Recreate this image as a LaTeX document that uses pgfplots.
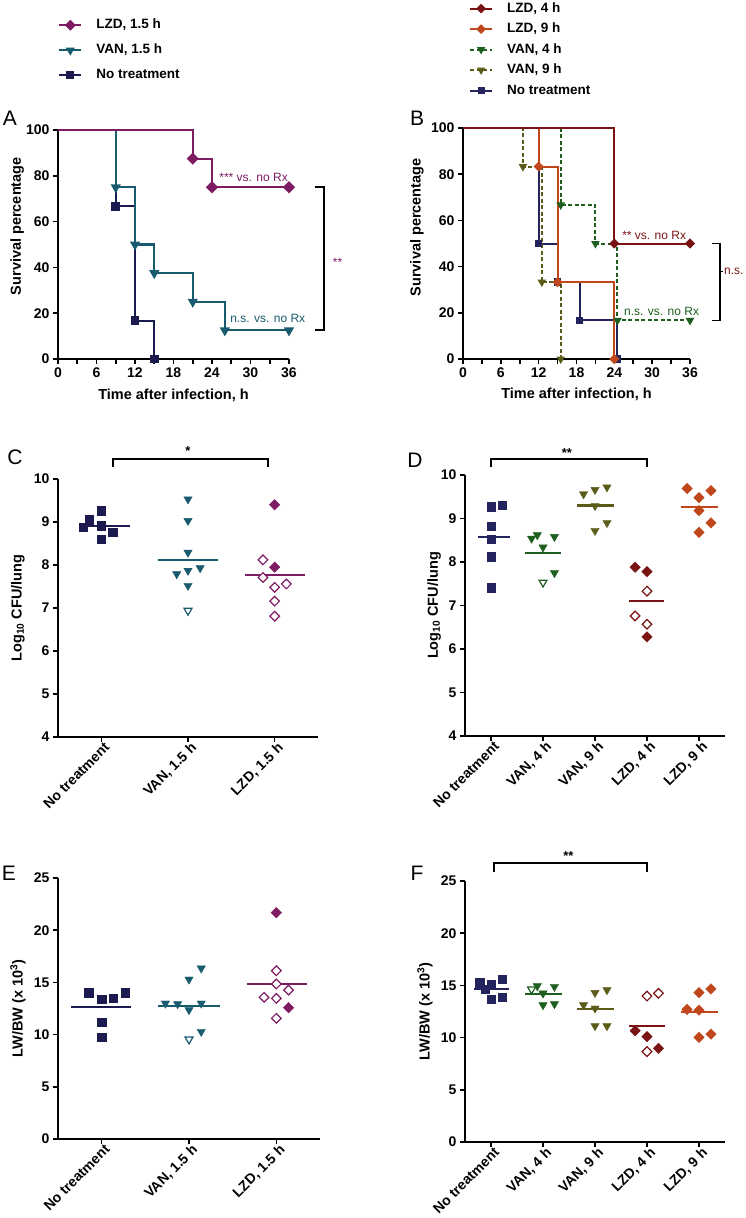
\documentclass[border=0pt]{standalone}
\usepackage{pgfplots}
\pgfplotsset{compat=1.18}
\usepackage{fontspec}
\setmainfont{Liberation Sans}

\definecolor{navy}{HTML}{1B1B4F}
\definecolor{navyb}{HTML}{23235E}
\definecolor{lzd}{HTML}{7D1B63}
\definecolor{van}{HTML}{185A6E}
\definecolor{lzdfour}{HTML}{7A1414}
\definecolor{lzdnine}{HTML}{C0461B}
\definecolor{vanfour}{HTML}{1E5E1E}
\definecolor{vannine}{HTML}{5C5C1A}

\newcommand{\fs}[1]{\fontsize{#1}{#1}\selectfont}

\pgfplotsset{
  /pgf/number format/assume math mode=true,
  gp/.style={
    scale only axis,
    axis x line*=bottom, axis y line*=left,
    axis line style={line width=2pt,-},
    tick align=outside,
    major tick length=5pt, minor tick length=5pt,
    every tick/.style={line width=1.6pt,black},
    tick label style={font=\fs{14}\bfseries},
    label style={font=\fs{14.5}\bfseries},
    clip=false,
  },
  cat/.style={
    xticklabel style={rotate=45,anchor=north east,inner sep=1pt,xshift=3pt,font=\fs{14}\bfseries},
  },
  legend image code/.code={\draw[mark repeat=2,mark phase=2,#1] plot coordinates {(0pt,0pt) (11pt,0pt) (22pt,0pt)};},
  sqm/.style={only marks, mark=square*, mark size=4.2pt},
  trim/.style={only marks, mark=triangle*, mark size=4.8pt, mark options={rotate=180}},
  trio/.style={only marks, mark=triangle*, mark size=4.6pt, mark options={rotate=180,fill=white,line width=1.2pt}},
  dim/.style={only marks, mark=square*, mark size=3.7pt, mark options={rotate=45}},
  dio/.style={only marks, mark=square*, mark size=3.4pt, mark options={rotate=45,fill=white,line width=1.2pt}},
  med/.style={line width=2.2pt},
}

\begin{document}
\begin{tikzpicture}
\useasboundingbox (0pt,0pt) rectangle (745pt,-1218pt);

% ---------------- Panel A ----------------
\begin{axis}[gp, at={(58pt,-359pt)}, anchor=south west, width=231pt, height=229pt,
  xmin=0, xmax=36, ymin=0, ymax=100,
  xtick={0,6,...,36}, minor xtick={3,9,...,33}, ytick={0,20,...,100},
  xlabel={Time after infection, h}, ylabel={Survival percentage},
  xlabel style={at={(axis description cs:0.5,-0.157)},anchor=center},
  ylabel style={at={(axis description cs:-0.177,0.58)},anchor=center},
  legend cell align=left,
  legend style={at={(axis description cs:0,1.489)},anchor=north west,draw=none,fill=none,
    inner sep=0pt,font=\fs{13.5}\bfseries,row sep=11pt,column sep=13pt,
    nodes={inner sep=1pt,text height=9.5pt,text depth=2.5pt}}]
\addlegendimage{lzd,line width=2.2pt,mark=square*,mark size=2.8pt,mark options={rotate=45}}
\addlegendentry{LZD, 1.5 h}
\addlegendimage{van,line width=2.2pt,mark=triangle*,mark size=3.2pt,mark options={rotate=180}}
\addlegendentry{VAN, 1.5 h}
\addlegendimage{navy,line width=2.2pt,mark=square*,mark size=2.8pt}
\addlegendentry{No treatment}

\addplot[navy,line width=2.2pt,const plot,mark=square*,mark size=3.2pt,mark indices={2,3,4},forget plot]
  coordinates {(0,100) (9,66.7) (12,16.7) (15,0)};
\addplot[van,line width=2.2pt,const plot,mark=triangle*,mark size=3.8pt,mark options={rotate=180},mark indices={2,3,4,5,6,7},forget plot]
  coordinates {(0,100) (9,75) (12,50) (15,37.5) (21,25) (26,12.5) (36,12.5)};
\addplot[lzd,line width=2.2pt,const plot,mark=square*,mark size=3.2pt,mark options={rotate=45},mark indices={2,3,4},forget plot]
  coordinates {(0,100) (21,87.5) (24,75) (36,75)};

\node[anchor=west,text=lzd,font=\fs{12}] at (axis cs:24.6,79.5) {*** vs. no Rx};
\node[anchor=west,text=van,font=\fs{12}] at (axis cs:26.3,17.5) {n.s. vs. no Rx};
\draw[line width=1.8pt] (axis cs:40,75) -- (axis cs:41.4,75) -- (axis cs:41.4,12.5) -- (axis cs:40,12.5);
\node[anchor=base west,text=lzd,font=\fs{12}] at (axis cs:42.3,40.4) {**};
\end{axis}

% ---------------- Panel B ----------------
\begin{axis}[gp, at={(463pt,-359pt)}, anchor=south west, width=227pt, height=231pt,
  xmin=0, xmax=36, ymin=0, ymax=100,
  xtick={0,6,...,36}, minor xtick={3,9,...,33}, ytick={0,20,...,100},
  xlabel={Time after infection, h}, ylabel={Survival percentage},
  xlabel style={at={(axis description cs:0.5,-0.155)},anchor=center},
  ylabel style={at={(axis description cs:-0.203,0.57)},anchor=center},
  legend cell align=left,
  legend style={at={(axis description cs:0.026,1.548)},anchor=north west,draw=none,fill=none,
    inner sep=0pt,font=\fs{13.5}\bfseries,row sep=6.5pt,column sep=13pt,
    nodes={inner sep=1pt,text height=9.5pt,text depth=2.5pt}}]
\addlegendimage{lzdfour,line width=2pt,mark=square*,mark size=2.4pt,mark options={rotate=45}}
\addlegendentry{LZD, 4 h}
\addlegendimage{lzdnine,line width=2pt,mark=square*,mark size=2.4pt,mark options={rotate=45}}
\addlegendentry{LZD, 9 h}
\addlegendimage{vanfour,line width=2pt,dash pattern=on 4pt off 2.5pt,mark=triangle*,mark size=2.8pt,mark options={solid,rotate=180}}
\addlegendentry{VAN, 4 h}
\addlegendimage{vannine,line width=2pt,dash pattern=on 4pt off 2.5pt,mark=triangle*,mark size=2.8pt,mark options={solid,rotate=180}}
\addlegendentry{VAN, 9 h}
\addlegendimage{navyb,line width=2pt,mark=square*,mark size=2.4pt}
\addlegendentry{No treatment}

\addplot[navyb,line width=2pt,const plot,mark=square*,mark size=2.8pt,mark indices={2,3,4,5},forget plot]
  coordinates {(0,100) (12,50) (15,33.3) (18.5,16.7) (24.5,0)};
\addplot[vannine,line width=2pt,dash pattern=on 4pt off 2.5pt,const plot,mark=triangle*,mark size=3pt,mark options={solid,rotate=180},mark indices={2,3,4},forget plot]
  coordinates {(0,100) (9.5,83.3) (12.5,33.3) (15.5,0)};
\addplot[vanfour,line width=2pt,dash pattern=on 4pt off 2.5pt,const plot,mark=triangle*,mark size=3pt,mark options={solid,rotate=180},mark indices={2,3,4,5},forget plot]
  coordinates {(0,100) (15.5,66.7) (21,50) (24.5,16.7) (36,16.7)};
\addplot[lzdnine,line width=2pt,const plot,mark=square*,mark size=2.6pt,mark options={rotate=45},mark indices={2,3,4},forget plot]
  coordinates {(0,100) (12,83.3) (15,33.3) (24,0)};
\addplot[lzdfour,line width=2pt,const plot,mark=square*,mark size=2.6pt,mark options={rotate=45},mark indices={2,3},forget plot]
  coordinates {(0,100) (24,50) (36,50)};

\node[anchor=west,text=lzdfour,font=\fs{12}] at (axis cs:24.7,53.7) {** vs. no Rx};
\node[anchor=west,text=vanfour,font=\fs{12}] at (axis cs:25,20.8) {n.s. vs. no Rx};
\draw[line width=1.8pt] (axis cs:39.5,50) -- (axis cs:40.8,50) -- (axis cs:40.8,16.7) -- (axis cs:39.5,16.7);
\draw[line width=1.2pt] (axis cs:40.8,38) -- (axis cs:41.3,38);
\node[anchor=west,text=lzdfour,font=\fs{12},inner sep=0.5pt] at (axis cs:41.3,38) {n.s.};
\end{axis}

% ---------------- Panel C ----------------
\begin{axis}[gp, cat, at={(58pt,-737pt)}, anchor=south west, width=260pt, height=258pt,
  xmin=0.5, xmax=3.5, ymin=4, ymax=10, ytick={4,5,...,10},
  xtick={1,2,3}, xticklabels={{No treatment},{VAN, 1.5 h},{LZD, 1.5 h}},
  ylabel={Log\textsubscript{10} CFU/lung},
  ylabel style={at={(axis description cs:-0.154,0.5)},anchor=center}]
\addplot[sqm,navy] coordinates {(0.79,8.88) (0.86,9.05) (1,9.26) (1,8.91) (1.13,8.77) (1,8.60)};
\addplot[med,navy] coordinates {(0.75,8.91) (1.33,8.91)};
\addplot[trim,van] coordinates {(2,9.53) (2,9.03) (2,8.29) (1.87,7.79) (2,7.87) (2.14,7.93) (2,7.52)};
\addplot[trio,van] coordinates {(2,6.94)};
\addplot[med,van] coordinates {(1.65,8.11) (2.35,8.11)};
\addplot[dim,lzd] coordinates {(3,9.40) (3,7.95)};
\addplot[dio,lzd] coordinates {(2.865,8.12) (2.865,7.71) (3,7.48) (3.135,7.56) (3,7.16) (3,6.81)};
\addplot[med,lzd] coordinates {(2.66,7.77) (3.35,7.77)};
\draw[line width=1.8pt] (axis cs:1.13,10.28) |- (axis cs:2.92,10.47) -- (axis cs:2.92,10.28);
\node[anchor=base,font=\fs{13}\bfseries] at (axis cs:2,10.55) {*};
\end{axis}

% ---------------- Panel D ----------------
\begin{axis}[gp, cat, at={(465pt,-736pt)}, anchor=south west, width=260pt, height=261pt,
  xmin=0.5, xmax=5.5, ymin=4, ymax=10, ytick={4,5,...,10},
  xtick={1,2,3,4,5}, xticklabels={{No treatment},{VAN, 4 h},{VAN, 9 h},{LZD, 4 h},{LZD, 9 h}},
  ylabel={Log\textsubscript{10} CFU/lung},
  ylabel style={at={(axis description cs:-0.119,0.5)},anchor=center}]
\addplot[sqm,navyb] coordinates {(1,9.27) (1.22,9.31) (1,8.83) (1,8.52) (1,8.12) (1,7.41)};
\addplot[med,navyb] coordinates {(0.75,8.58) (1.36,8.58)};
\addplot[trim,vanfour] coordinates {(1.78,8.54) (1.89,8.62) (2.22,8.58) (2,8.34) (2.22,7.75)};
\addplot[trio,vanfour] coordinates {(2,7.53)};
\addplot[med,vanfour] coordinates {(1.65,8.20) (2.35,8.20)};
\addplot[trim,vannine] coordinates {(2.78,9.56) (3,9.66) (3.23,9.72) (3,9.29) (3,8.72) (3.23,8.90)};
\addplot[med,vannine] coordinates {(2.65,9.30) (3.36,9.30)};
\addplot[dim,lzdfour] coordinates {(3.77,7.88) (4,7.78) (4,6.28)};
\addplot[dio,lzdfour] coordinates {(4,7.33) (3.77,6.76) (4,6.57)};
\addplot[med,lzdfour] coordinates {(3.65,7.10) (4.33,7.10)};
\addplot[dim,lzdnine] coordinates {(4.77,9.69) (5,9.48) (5.23,9.64) (5,9.18) (5.23,8.90) (5,8.68)};
\addplot[med,lzdnine] coordinates {(4.65,9.26) (5.36,9.26)};
\draw[line width=1.8pt] (axis cs:1,10.19) |- (axis cs:4,10.36) -- (axis cs:4,10.19);
\node[anchor=base,font=\fs{13}\bfseries] at (axis cs:2.46,10.40) {**};
\end{axis}

% ---------------- Panel E ----------------
\begin{axis}[gp, cat, at={(58pt,-1139pt)}, anchor=south west, width=262pt, height=261pt,
  xmin=0.5, xmax=3.5, ymin=0, ymax=25, ytick={0,5,...,25},
  xtick={1,2,3}, xticklabels={{No treatment},{VAN, 1.5 h},{LZD, 1.5 h}},
  ylabel={LW/BW (x 10\textsuperscript{3})},
  ylabel style={at={(axis description cs:-0.153,0.5)},anchor=center}]
\addplot[sqm,navy] coordinates {(0.85,14.01) (1,13.37) (1.13,13.47) (1.27,14.01) (1,11.21) (1,9.74)};
\addplot[med,navy] coordinates {(0.65,12.64) (1.34,12.64)};
\addplot[trim,van] coordinates {(1.73,12.99) (1.87,12.93) (2.14,12.99) (2,12.36) (2,15.29) (2.14,16.35) (2.14,10.28)};
\addplot[trio,van] coordinates {(2,9.55)};
\addplot[med,van] coordinates {(1.65,12.74) (2.35,12.74)};
\addplot[dim,lzd] coordinates {(3,21.68) (3.14,12.58)};
\addplot[dio,lzd] coordinates {(3,16.12) (3,14.85) (3.14,14.27) (2.86,13.57) (3,13.47) (3,11.56)};
\addplot[med,lzd] coordinates {(2.66,14.82) (3.35,14.82)};
\end{axis}

% ---------------- Panel F ----------------
\begin{axis}[gp, cat, at={(465pt,-1142pt)}, anchor=south west, width=260pt, height=261pt,
  xmin=0.5, xmax=5.5, ymin=0, ymax=25, ytick={0,5,...,25},
  xtick={1,2,3,4,5}, xticklabels={{No treatment},{VAN, 4 h},{VAN, 9 h},{LZD, 4 h},{LZD, 9 h}},
  ylabel={LW/BW (x 10\textsuperscript{3})},
  ylabel style={at={(axis description cs:-0.154,0.5)},anchor=center}]
\addplot[sqm,navyb] coordinates {(0.78,15.26) (1,15.13) (1.22,15.58) (0.89,14.63) (1,13.67) (1.22,13.86)};
\addplot[med,navyb] coordinates {(0.67,14.66) (1.34,14.66)};
\addplot[trim,vanfour] coordinates {(1.89,14.94) (2.22,14.88) (2,14.24) (2,13.12) (2.22,13.22)};
\addplot[trio,vanfour] coordinates {(1.78,14.63)};
\addplot[med,vanfour] coordinates {(1.65,14.15) (2.36,14.15)};
\addplot[trim,vannine] coordinates {(2.78,13.12) (3,12.80) (3,14.30) (3.23,14.56) (3,11.11) (3.23,11.11)};
\addplot[med,vannine] coordinates {(2.65,12.77) (3.36,12.77)};
\addplot[dim,lzdfour] coordinates {(3.77,10.66) (4,10.09) (4.22,8.97)};
\addplot[dio,lzdfour] coordinates {(4,13.98) (4.22,14.24) (4,8.66)};
\addplot[med,lzdfour] coordinates {(3.65,11.11) (4.35,11.11)};
\addplot[dim,lzdnine] coordinates {(4.77,12.71) (5,12.64) (5,14.30) (5.23,14.66) (5,10.03) (5.23,10.34)};
\addplot[med,lzdnine] coordinates {(4.65,12.48) (5.36,12.48)};
\draw[line width=1.8pt] (axis cs:1.06,25.89) |- (axis cs:4,26.70) -- (axis cs:4,25.89);
\node[anchor=base,font=\fs{13}\bfseries] at (axis cs:2.49,27.0) {**};
\end{axis}

% panel letters
\node[font=\fs{21}] at (10pt,-118pt) {A};
\node[font=\fs{21}] at (417pt,-118pt) {B};
\node[font=\fs{21}] at (15pt,-457pt) {C};
\node[font=\fs{21}] at (415pt,-460pt) {D};
\node[font=\fs{21}] at (9pt,-873pt) {E};
\node[font=\fs{21}] at (417pt,-873pt) {F};
\end{tikzpicture}
\end{document}
